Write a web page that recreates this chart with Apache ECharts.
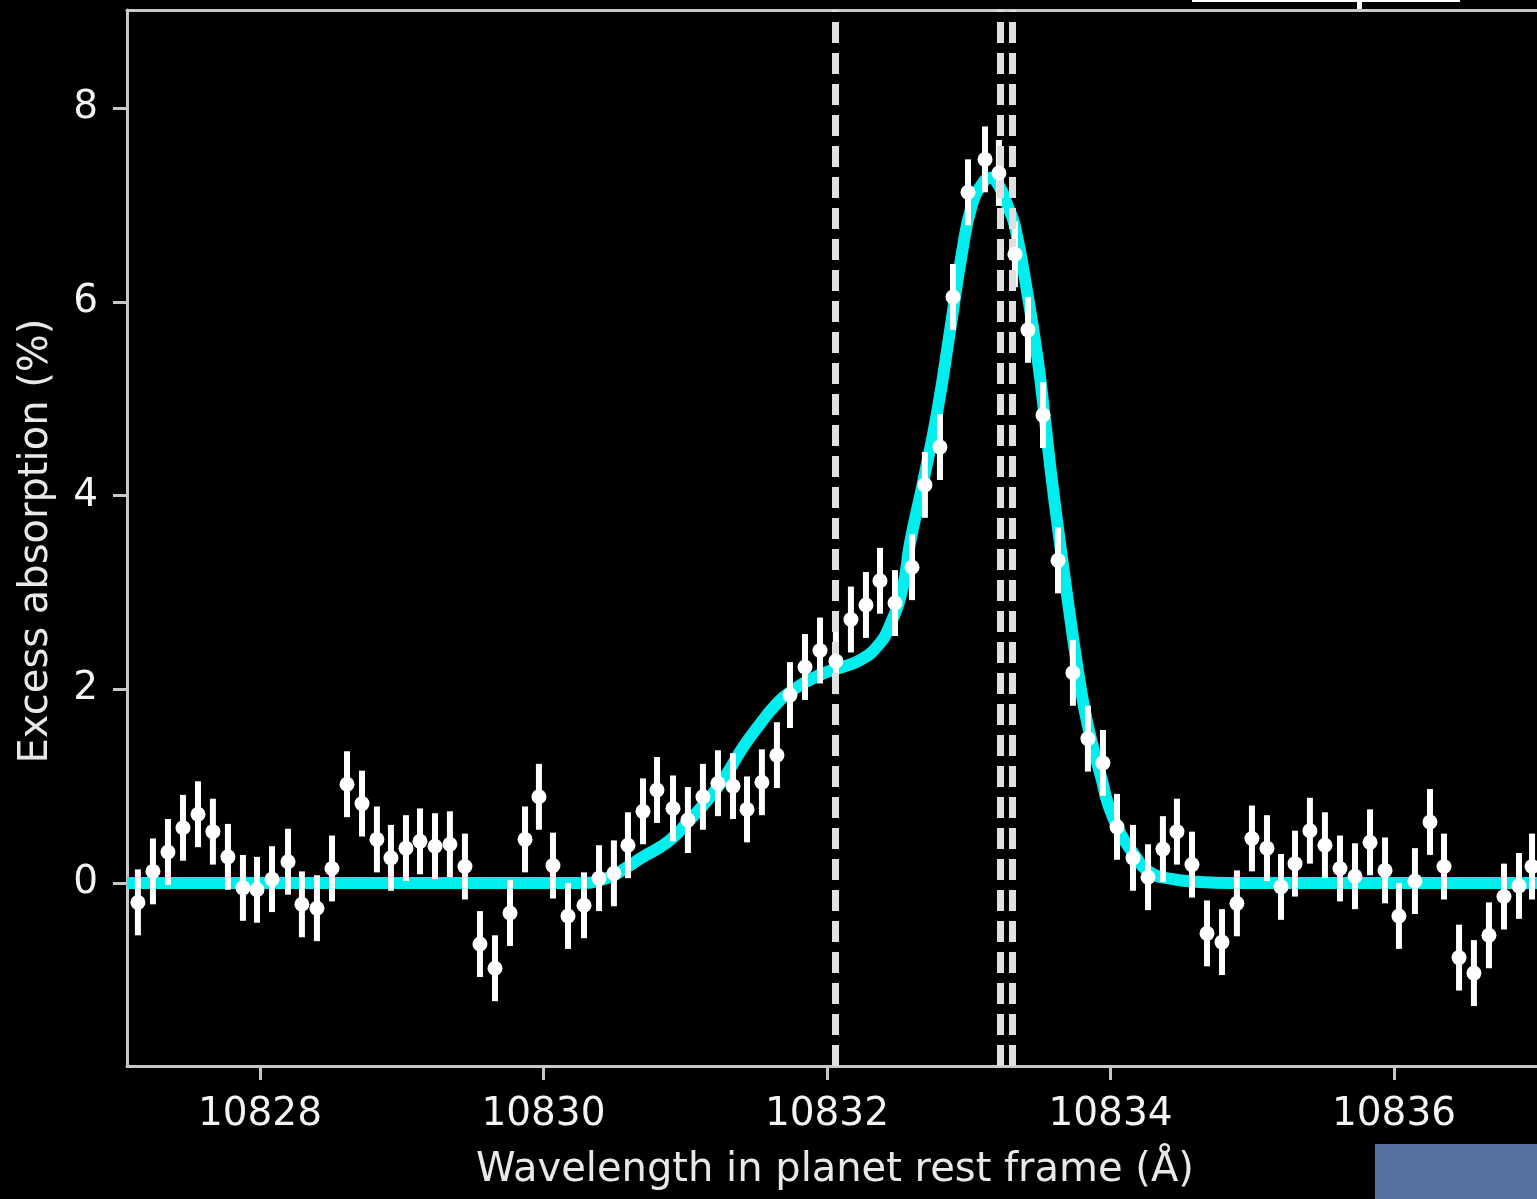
<!DOCTYPE html>
<html>
<head>
<meta charset="utf-8">
<script src="https://cdn.jsdelivr.net/npm/echarts@6/dist/echarts.min.js"></script>
<style>
html,body{margin:0;padding:0;background:#000;}
#chart{width:1537px;height:1199px;}
</style>
</head>
<body>
<div id="chart"></div>
<script>
// Observed data: wavelength (Å, planet rest frame) and excess absorption (%)
const wavelength = [
10827.139,10827.245,10827.351,10827.457,10827.563,10827.668,10827.774,10827.880,10827.979,10828.085,
10828.198,10828.296,10828.402,10828.508,10828.614,10828.720,10828.825,10828.924,10829.030,10829.129,
10829.235,10829.340,10829.446,10829.552,10829.658,10829.764,10829.870,10829.968,10830.067,10830.173,
10830.286,10830.392,10830.497,10830.596,10830.702,10830.801,10830.914,10831.019,10831.125,10831.231,
10831.337,10831.436,10831.541,10831.647,10831.739,10831.845,10831.951,10832.063,10832.169,10832.275,
10832.374,10832.480,10832.600,10832.691,10832.797,10832.889,10832.995,10833.115,10833.213,10833.326,
10833.418,10833.524,10833.630,10833.735,10833.841,10833.947,10834.046,10834.159,10834.265,10834.370,
10834.469,10834.575,10834.681,10834.787,10834.892,10834.998,10835.104,10835.203,10835.302,10835.407,
10835.513,10835.619,10835.725,10835.831,10835.937,10836.035,10836.148,10836.254,10836.353,10836.459,
10836.564,10836.670,10836.776,10836.882,10836.974
];
const absorption = [
-0.20,0.12,0.32,0.57,0.71,0.53,0.27,-0.05,-0.07,0.04,
0.22,-0.22,-0.26,0.15,1.02,0.82,0.45,0.26,0.36,0.43,
0.38,0.40,0.17,-0.63,-0.88,-0.31,0.45,0.89,0.18,-0.34,
-0.23,0.05,0.10,0.39,0.74,0.96,0.77,0.65,0.89,1.03,
1.00,0.76,1.04,1.32,1.94,2.23,2.40,2.29,2.72,2.87,
3.12,2.89,3.26,4.11,4.50,6.05,7.13,7.47,7.33,6.49,
5.71,4.83,3.33,2.17,1.49,1.24,0.58,0.26,0.06,0.35,
0.53,0.19,-0.52,-0.61,-0.21,0.46,0.36,-0.04,0.20,0.54,
0.39,0.15,0.07,0.42,0.13,-0.34,0.02,0.63,0.17,-0.77,
-0.93,-0.54,-0.14,-0.03,0.17
];
const absorptionErr = [
0.34,0.34,0.34,0.34,0.34,0.34,0.34,0.34,0.34,0.34,
0.34,0.34,0.34,0.34,0.34,0.34,0.34,0.34,0.34,0.34,
0.34,0.34,0.34,0.34,0.34,0.34,0.34,0.34,0.34,0.34,
0.34,0.34,0.34,0.34,0.34,0.34,0.34,0.34,0.34,0.34,
0.34,0.34,0.34,0.34,0.34,0.34,0.34,0.34,0.34,0.34,
0.34,0.34,0.34,0.34,0.34,0.34,0.34,0.34,0.34,0.34,
0.34,0.34,0.34,0.34,0.34,0.34,0.34,0.34,0.34,0.34,
0.34,0.34,0.34,0.34,0.34,0.34,0.34,0.34,0.34,0.34,
0.34,0.34,0.34,0.34,0.34,0.34,0.34,0.34,0.34,0.34,
0.34,0.34,0.34,0.34,0.34
];
// Model curve (cyan)
const modelWavelength = [
10827.062,10830.300,10830.400,10830.497,10830.596,10830.702,10830.822,10830.914,10831.019,10831.125,
10831.224,10831.316,10831.407,10831.527,10831.633,10831.739,10831.951,10832.113,10832.233,10832.353,
10832.444,10832.536,10832.586,10832.677,10832.776,10832.868,10832.952,10833.023,10833.101,10833.150,
10833.220,10833.277,10833.326,10833.418,10833.489,10833.538,10833.580,10833.630,10833.679,10833.728,
10833.771,10833.820,10833.877,10833.940,10833.982,10834.067,10834.159,10834.279,10834.441,10834.631,
10834.843,10837.009
];
const modelAbsorption = [
0.00,0.00,0.03,0.08,0.17,0.27,0.37,0.47,0.63,0.80,
0.98,1.18,1.40,1.64,1.83,1.97,2.15,2.23,2.30,2.44,
2.66,3.06,3.51,4.13,4.85,5.70,6.50,7.00,7.23,7.28,
7.18,6.98,6.78,6.05,5.38,4.78,4.24,3.66,3.13,2.61,
2.19,1.77,1.40,1.06,0.82,0.52,0.31,0.11,0.04,0.01,
0.00,0.00
];
// He I triplet line positions (dashed verticals)
const heLines = [10832.057, 10833.217, 10833.306];
// Axis ticks
const xTicks = [10828, 10830, 10832, 10834, 10836];
const yTicks = [0, 2, 4, 6, 8];
const xRange = [10827.062, 10837.009];
const yRange = [-1.889, 9.012];

const FONT = 'DejaVu Sans';
const AXIS_COLOR = '#c8c8c8';

const points = wavelength.map((w, i) => [w, absorption[i], absorptionErr[i]]);
const model = modelWavelength.map((w, i) => [w, modelAbsorption[i]]);

const chart = echarts.init(document.getElementById('chart'), null, {renderer: 'canvas'});
chart.setOption({
  backgroundColor: '#000',
  animation: false,
  grid: {left: 127, right: 0, top: 10, bottom: 133, containLabel: false},
  xAxis: [{
    type: 'value', min: xRange[0], max: xRange[1], position: 'bottom',
    axisLine: {show: true, onZero: false, lineStyle: {color: AXIS_COLOR, width: 3}},
    axisTick: {show: true, inside: false, length: 14, customValues: xTicks, lineStyle: {color: AXIS_COLOR, width: 3}},
    axisLabel: {show: true, customValues: xTicks, margin: 29, color: '#f4f4f4', fontFamily: FONT, fontSize: 39,
      formatter: v => String(Math.round(v))},
    splitLine: {show: false}
  }, {
    type: 'value', min: xRange[0], max: xRange[1], position: 'top',
    axisLine: {show: true, onZero: false, lineStyle: {color: AXIS_COLOR, width: 3}},
    axisTick: {show: false}, axisLabel: {show: false}, splitLine: {show: false}
  }],
  yAxis: {
    type: 'value', min: yRange[0], max: yRange[1],
    axisLine: {show: true, onZero: false, lineStyle: {color: AXIS_COLOR, width: 3}},
    axisTick: {show: true, inside: false, length: 14, customValues: yTicks, lineStyle: {color: AXIS_COLOR, width: 3}},
    axisLabel: {show: true, customValues: yTicks, margin: 29, color: '#f4f4f4', fontFamily: FONT, fontSize: 39},
    splitLine: {show: false}
  },
  series: [
    {
      type: 'line', name: 'lines', data: [], z: 2, silent: true,
      markLine: {
        silent: true, symbol: ['none', 'none'], label: {show: false},
        lineStyle: {color: '#e0e0e0', width: 7, type: [21, 10], opacity: 1},
        emphasis: {disabled: true},
        data: heLines.map(v => ({xAxis: v}))
      }
    },
    {
      type: 'line', name: 'model', data: model, z: 3, silent: true,
      showSymbol: false, smooth: 0.5,
      lineStyle: {color: '#00eeee', width: 12}
    },
    {
      type: 'custom', name: 'errors', z: 4, silent: true,
      data: points,
      renderItem: function (params, api) {
        const x = api.value(0), y = api.value(1), e = api.value(2);
        const p1 = api.coord([x, y - e]);
        const p2 = api.coord([x, y + e]);
        return {type: 'line', shape: {x1: p1[0], y1: p1[1], x2: p2[0], y2: p2[1]},
          style: {stroke: '#ffffff', lineWidth: 6, opacity: 1}};
      }
    },
    {
      type: 'scatter', name: 'data', z: 5, silent: true,
      data: points.map(p => [p[0], p[1]]),
      symbol: 'circle', symbolSize: 15,
      itemStyle: {color: '#ffffff', opacity: 1}
    }
  ],
  graphic: [
    {type: 'text', x: 37, y: 541, rotation: Math.PI / 2,
      style: {text: 'Excess absorption (%)', fill: '#e8e8e8', font: '40px "DejaVu Sans"', align: 'center', verticalAlign: 'middle'}},
    {type: 'text', x: 835, y: 1171,
      style: {text: 'Wavelength in planet rest frame (Å)', fill: '#e8e8e8', font: '40px "DejaVu Sans"', align: 'center', verticalAlign: 'middle'}},
    {type: 'rect', shape: {x: 1192, y: 0, width: 268, height: 2}, style: {fill: '#ffffff'}},
    {type: 'rect', shape: {x: 1357, y: 0, width: 5, height: 10}, style: {fill: '#ffffff'}},
    {type: 'rect', shape: {x: 1375, y: 1144, width: 162, height: 55}, style: {fill: '#5672a1'}}
  ]
});
</script>
</body>
</html>
